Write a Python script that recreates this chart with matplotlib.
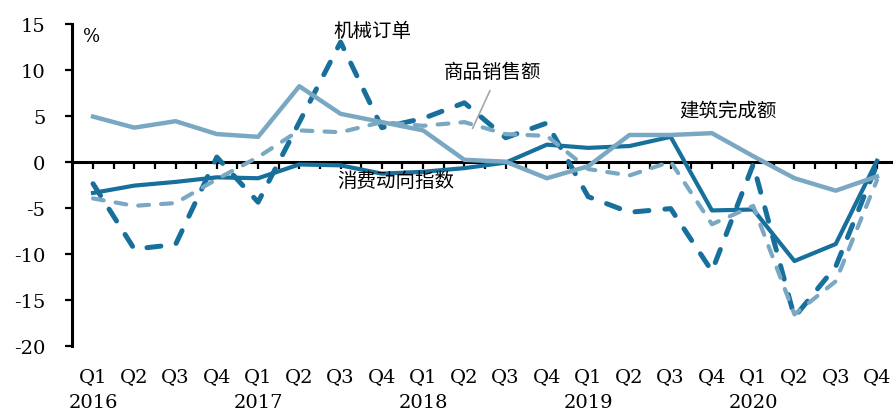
import matplotlib
matplotlib.use('Agg')
import matplotlib.pyplot as plt
import numpy as np

plt.rcParams['font.family'] = ['DejaVu Serif']

quarters = ['Q1', 'Q2', 'Q3', 'Q4'] * 5
years = ['2016', '2017', '2018', '2019', '2020']

# 建筑完成额
jianzhu = [4.9, 3.7, 4.4, 3.0, 2.7, 8.2, 5.2, 4.3, 3.4, 0.2,
           0.0, -1.8, -0.5, 2.9, 2.9, 3.1, 0.6, -1.8, -3.15, -1.6]
# 消费动向指数
xiaofei = [-3.4, -2.6, -2.2, -1.7, -1.8, -0.3, -0.4, -1.3, -1.1, -0.7,
           -0.1, 1.85, 1.5, 1.7, 2.7, -5.3, -5.2, -10.8, -8.95, 0.1]
# 商品销售额
shangpin = [-4.0, -4.8, -4.5, -1.9, 0.5, 3.4, 3.2, 4.3, 3.9, 4.3,
            3.0, 2.8, -0.8, -1.5, 0.0, -6.8, -4.8, -16.6, -13.0, -2.0]
# 机械订单
jixie = [-2.4, -9.5, -9.0, 0.5, -4.4, 4.3, 13.0, 3.7, 4.7, 6.4,
         2.6, 4.2, -3.8, -5.5, -5.1, -11.9, -0.3, -16.9, -11.4, -0.3]

dark = '#17709c'
light = '#7aa8c3'
cjk = ['Noto Sans CJK SC', 'DejaVu Sans']

fig = plt.figure(figsize=(8.93, 4.14), dpi=100)
ax = fig.add_axes([72 / 893, 0.1626, (897.6 - 72) / 893, 0.7778])

x = np.arange(len(quarters))
ax.plot(x, xiaofei, color=dark, lw=3.0, solid_joinstyle='round', zorder=3)
ax.plot(x, jixie, color=dark, lw=3.6, ls=(0, (2.8, 3.2)),
        dash_capstyle='round', dash_joinstyle='round', zorder=3)
ax.plot(x, shangpin, color=light, lw=3.0, ls=(0, (2.6, 2.9)),
        dash_capstyle='round', dash_joinstyle='round', zorder=3)
ax.plot(x, jianzhu, color=light, lw=3.2, solid_joinstyle='round', zorder=3)

ax.set_xlim(-0.51, 19.5)
ax.set_ylim(-20, 15)

ax.spines['top'].set_visible(False)
ax.spines['right'].set_visible(False)
ax.spines['bottom'].set_position(('data', 0))
ax.spines['bottom'].set_linewidth(2.2)
ax.spines['left'].set_linewidth(2.2)

ax.set_xticks(np.arange(0, 19.6, 0.5))
ax.tick_params(axis='x', direction='out', length=5, width=1.6, labelbottom=False)
yt = list(range(-20, 16, 5))
ax.set_yticks(yt)
ax.set_yticklabels([str(v) for v in yt])
ax.tick_params(axis='y', direction='out', length=5, width=1.6, pad=14, labelsize=14)

for i, q in enumerate(quarters):
    ax.text(i, -23.3, q, ha='center', va='center', fontsize=14, clip_on=False)
for k, yr in enumerate(years):
    ax.text(4 * k, -26.1, yr, ha='center', va='center', fontsize=14, clip_on=False)

ax.text(-0.24, 13.7, '%', ha='left', va='center', fontsize=13)

ax.text(6.77, 14.24, '机械订单', family=cjk, fontsize=14, ha='center', va='center')
ax.text(9.68, 9.8, '商品销售额', family=cjk, fontsize=14, ha='center', va='center')
ax.text(15.39, 5.54, '建筑完成额', family=cjk, fontsize=14, ha='center', va='center')
ax.text(7.34, -1.99, '消费动向指数', family=cjk, fontsize=14, ha='center', va='center')
ax.plot([9.62, 9.20], [7.72, 3.63], color='#a6a6a6', lw=1.2, zorder=2)

fig.savefig('out.png', dpi=100)
